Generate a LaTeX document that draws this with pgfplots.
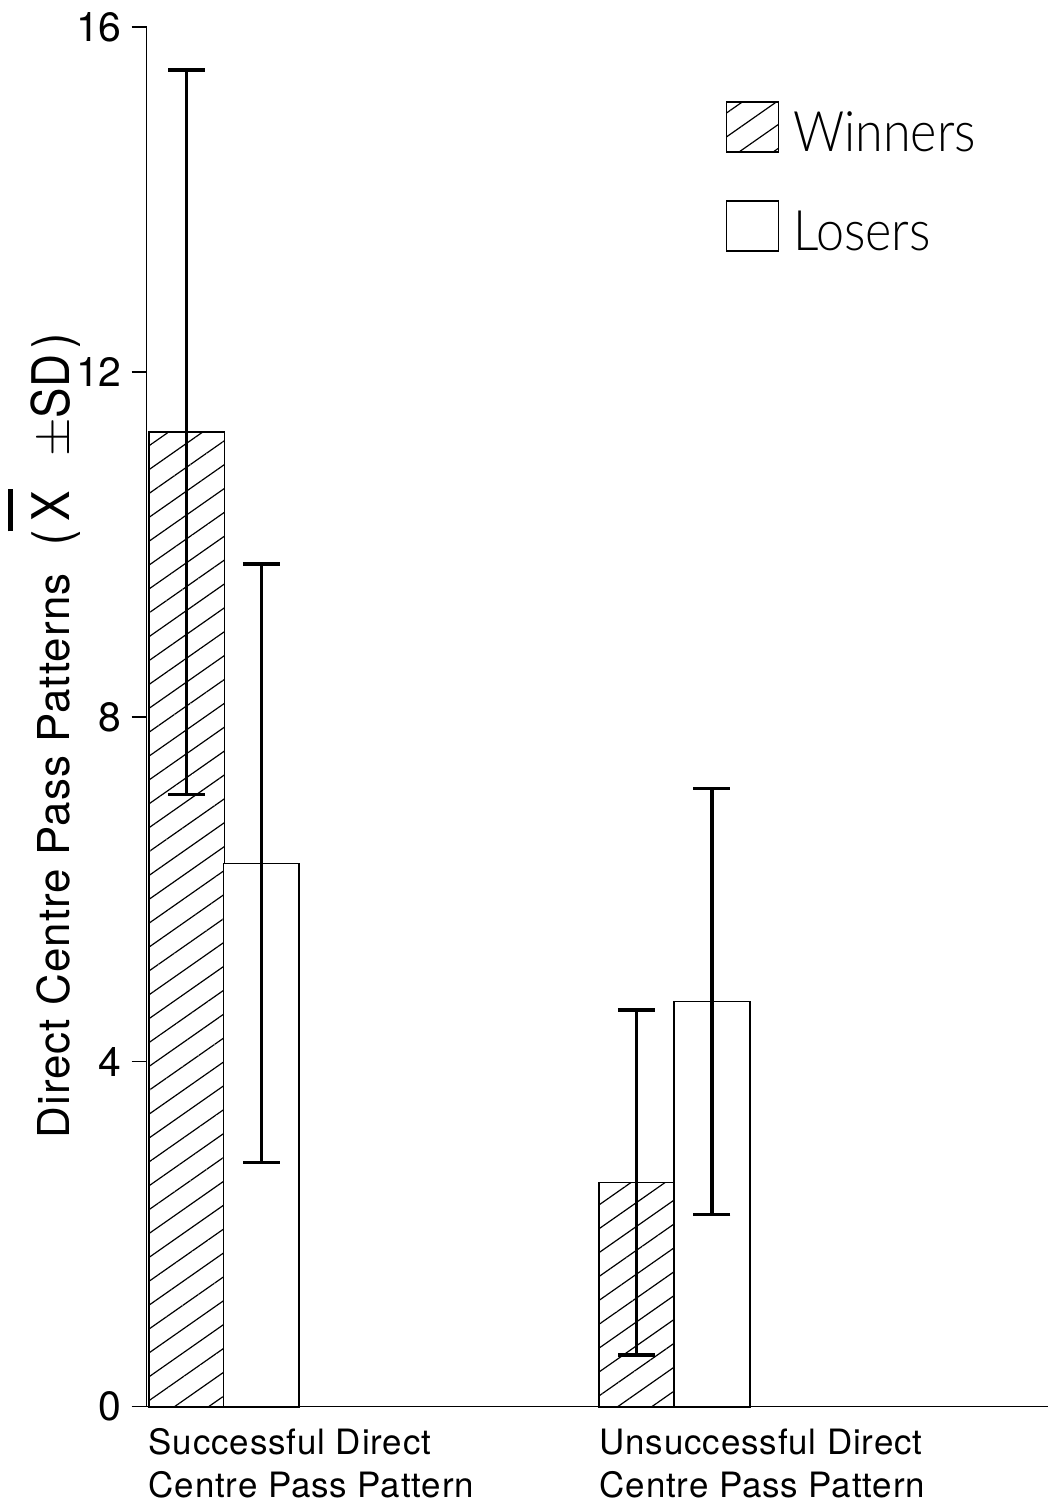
\documentclass[border=0pt]{standalone}
\usepackage{fontspec}
\setmainfont{TeX Gyre Heros}
\newfontfamily\lightfont{Lato Light}[FakeStretch=0.9]
\newfontfamily\labelfont{TeX Gyre Heros}[LetterSpace=2.5]
\newfontfamily\labelfontb{TeX Gyre Heros}[FakeStretch=0.88]
\usepackage{pgfplots}
\pgfplotsset{compat=1.18}
\usetikzlibrary{patterns.meta}

\pgfplotstableread{
x    y     e
187  11.30 4.20
638  2.60  2.00
}\winners
\pgfplotstableread{
x     y    e
262   6.30 3.47
713.5 4.70 2.47
}\losers

\pgfplotsset{
  mylegend/.style={legend image code/.code={\draw[##1, line width=0.8pt] (0pt,-9.5pt) rectangle (26pt,15.5pt);}},
}

\begin{document}
\begin{tikzpicture}
\begin{axis}[
  scale only axis,
  width=451.5pt,
  height=691.5pt,
  xmin=147, xmax=1050,
  ymin=0, ymax=16,
  axis lines=left,
  axis line style={-, line width=0.7pt},
  clip=false,
  ytick={0,4,8,12,16},
  xtick={148,600},
  xticklabels={{Successful Direct\\Centre Pass Pattern},{Unsuccessful Direct\\Centre Pass Pattern}},
  xticklabel style={anchor=north west, align=left, xshift=-3pt,
    font=\addfontfeatures{LetterSpace=2.5}\fontsize{17.5}{21.5}\selectfont},
  xtick style={draw=none},
  tick align=outside,
  major tick length=7.5pt,
  ytick style={line width=0.7pt, black},
  yticklabel style={font=\fontsize{20.5}{24}\selectfont, xshift=-1.5pt},
  /pgf/number format/assume math mode=true,
  ylabel={{\labelfont\fontsize{22}{26}\selectfont Direct Centre Pass Patterns}{\labelfontb\fontsize{26}{30}\selectfont\hspace{14pt}(\hspace{4.5pt}\makebox[0pt][l]{\hspace{-5pt}\raisebox{28.5pt}{\rule{21pt}{2.5pt}}}X\hspace{17pt}$\pm$SD\hspace{3pt})}},
  ylabel style={at={(rel axis cs:-0.0853,0.486)}, anchor=base},
  legend style={at={(axis cs:727,15.14)}, anchor=north west, draw=none, fill=none,
    font=\lightfont\fontsize{28}{33}\selectfont, row sep=20.8pt, inner sep=0pt},
  legend cell align=left,
]
\addplot[ybar, bar width=76, bar shift=0pt, draw=black, line width=0.9pt,
  pattern={Lines[angle=35, distance=9.8pt, line width=0.6pt]}, mylegend,
  error bars/.cd, y dir=both, y explicit,
  error bar style={line width=1.7pt, black},
  error mark options={rotate=90, mark size=9.3pt, line width=1.7pt, black}]
  table[x=x, y=y, y error=e] {\winners};
\addlegendentry{\hspace{5pt}Winners}
\addplot[ybar, bar width=76, bar shift=0pt, draw=black, line width=0.9pt,
  fill=white, mylegend,
  error bars/.cd, y dir=both, y explicit,
  error bar style={line width=1.7pt, black},
  error mark options={rotate=90, mark size=9.3pt, line width=1.7pt, black}]
  table[x=x, y=y, y error=e] {\losers};
\addlegendentry{\hspace{5pt}Losers}
\coordinate (O) at (axis cs:147,0);
\end{axis}
\path ([xshift=-73.5pt,yshift=-47.5pt]O) rectangle ([xshift=454pt,yshift=705pt]O);
\end{tikzpicture}
\end{document}
